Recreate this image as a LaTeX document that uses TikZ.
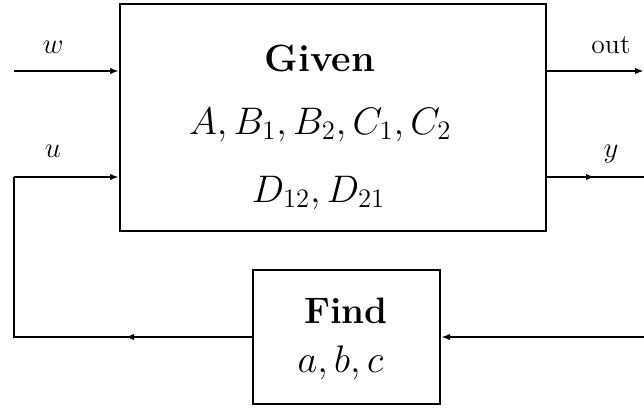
\documentclass[tikz,border=0pt]{standalone}
\usetikzlibrary{arrows.meta}
\newcommand{\mymath}[1]{\scalebox{0.926}{\fontsize{20.74}{25}\selectfont$#1$}}
\begin{document}
\begin{tikzpicture}[x=0.5pt,y=-0.5pt,line width=1pt,
  >={Latex[length=4.5pt,width=3.2pt]},
  blockbox/.style={draw,rectangle,inner sep=0pt},
  boldtext/.style={anchor=base,inner sep=0pt,font=\fontsize{19}{23}\selectfont\bfseries},
  findtext/.style={anchor=base,inner sep=0pt,font=\fontsize{18.4}{22}\selectfont\bfseries},
  mathtext/.style={anchor=base,inner sep=0pt},
  sigtext/.style={anchor=base,inner sep=0pt,font=\fontsize{13.8}{17}\selectfont}]
\useasboundingbox (0,0) rectangle (644,409);
% blocks
\node[blockbox,minimum width=213pt,minimum height=113.5pt] (given) at (333,117.5) {};
\node[blockbox,minimum width=93.5pt,minimum height=67pt] (find) at (346.5,337) {};
% texts
\node[boldtext] (tgiven) at (320,71) {Given};
\node[mathtext] (tabc) at (320,134) {\mymath{A, B_1, B_2, C_1, C_2}};
\node[mathtext] (td) at (318.5,202) {\mymath{D_{12}, D_{21}}};
\node[findtext] (tfind) at (346,323) {Find};
\node[mathtext] (tsmall) at (340.5,372) {\mymath{a, b, c}};
\node[sigtext] (lw) at (53,53) {$w$};
\node[sigtext] (lu) at (53,157) {$u$};
\node[sigtext] (lout) at (611,53) {out};
\node[sigtext] (ly) at (611,157) {$y$};
% coordinates
\coordinate (win) at (14,71);
\coordinate (uin) at (14,177);
\coordinate (fbl) at (14,337);
\coordinate (fbmid) at (125,337);
\coordinate (outend) at (644,71);
\coordinate (ymid) at (595,177);
\coordinate (yend) at (644,177);
\coordinate (fbr) at (644,337);
% connectors
\draw[->] (win) -- (win -| given.west);
\draw[->] (uin) -- (uin -| given.west);
\draw[->] (outend -| given.east) -- (outend);
\draw (ymid -| given.east) -- (yend);
\draw[->] (ymid -| given.east) -- (ymid);
\draw[->] (fbr) -- (find.east);
\draw (find.west) -- (fbl) -- (uin);
\draw[->] (find.west) -- (fbmid);
\end{tikzpicture}
\end{document}
